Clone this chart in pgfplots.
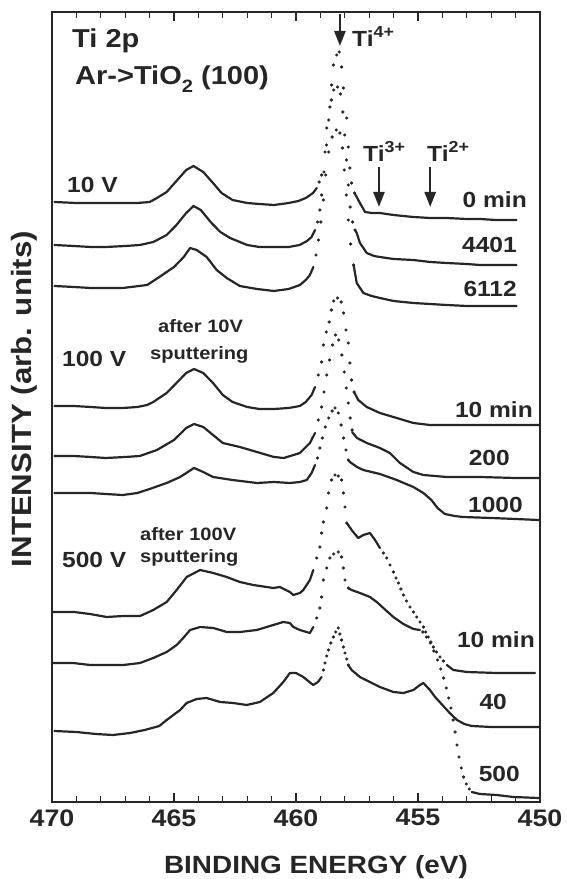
\documentclass[border=0pt]{standalone}
\usepackage{fontspec}
\setmainfont{Liberation Sans}[FakeStretch=1.12]
\usepackage{pgfplots}
\pgfplotsset{compat=1.18}
\usetikzlibrary{arrows.meta}
\newcommand\fs[1]{\fontsize{#1}{#1}\selectfont\bfseries}
\pgfplotsset{
  ln/.style={line width=2.2bp, color=black!85, mark=none, line join=round, line cap=round},
  dt/.style={only marks, mark=*, mark size=1.4bp, color=black!85, mark options={draw=black!85, fill=black!85}},
}
\begin{document}
\begin{tikzpicture}
\useasboundingbox (0,0) rectangle (567bp,879bp);
\begin{axis}[
  at={(52bp,77bp)}, anchor=south west,
  scale only axis, width=488bp, height=790bp,
  x dir=reverse, xmin=450, xmax=470, ymin=-2, ymax=788,
  xtick={450,455,460,465,470}, minor x tick num=4,
  ytick=\empty,
  tick align=inside, major tick length=9bp, minor tick length=6bp,
  xtick pos=both,
  axis line style={line width=1.6bp, black!85},
  tick style={line width=1.3bp, black!85},
  /pgf/number format/assume math mode=true,
  /pgf/number format/1000 sep={},
  tick label style={font=\fs{24}, text=black!85},
  xticklabel style={yshift=-4bp},
  xlabel={BINDING ENERGY (eV)},
  xlabel style={font=\fs{25}, text=black!85, at={(axis description cs:0.5,0)}, anchor=base, yshift=-71bp, xshift=20bp},
  ylabel={INTENSITY (arb. units)},
  ylabel style={font=\fs{28}, text=black!85, at={(axis description cs:-0.057,0.51)}, anchor=center},
]
% ---------------- 10 V, 0 min
\addplot[ln] coordinates {(469.9,598)(469.0,597)(468.4,597)(467.6,597)(467.1,597)(466.5,597)(466.0,598)(465.7,602)(465.3,608)(464.9,619)(464.5,630)(464.2,634)(463.8,628)(463.4,617)(463.05,607)(462.6,600)(462.0,597)(461.5,596)(460.9,595)(460.3,597)(459.9,599)(459.6,602)(459.3,607)(459.15,612)};
\addplot[dt] coordinates {(459.05,618)(458.95,625)(458.81,648)(458.74,672)(458.61,693)(458.54,715)(458.47,735)(458.33,745)(458.23,748)(458.13,733)(458.06,712)(457.92,682)(457.86,653)(457.79,632)(457.72,617)(457.60,607)};
\addplot[ln] coordinates {(457.60,607)(457.38,597)(457.17,588)(456.9,587)(456.56,587)(456.0,585)(455.19,583)(454.5,582)(453.82,582)(453.0,581)(452.46,581)(451.8,580)(450.96,580)};
% ---------------- 4401
\addplot[ln] coordinates {(469.9,555)(469.1,554)(468.4,553)(467.8,553)(467.0,554)(466.4,555)(465.85,558)(465.3,565)(464.9,575)(464.5,587)(464.2,594)(463.9,590)(463.5,578)(463.1,568)(462.7,562)(462.0,555)(461.5,553)(460.9,553)(460.3,553)(459.85,555)(459.55,559)(459.36,563)(459.22,570)};
\addplot[dt] coordinates {(459.12,578)(459.02,590)(458.95,605)(458.85,628)(458.75,655)(458.66,680)(458.55,700)(458.45,710)(458.30,713)(458.18,706)(458.08,688)(458.00,665)(457.93,640)(457.86,615)(457.78,593)(457.68,578)(457.58,570)};
\addplot[ln] coordinates {(457.58,570)(457.51,567)(457.38,557)(457.10,547)(456.8,544)(456.56,543)(456.0,541)(455.19,540)(454.5,538)(453.82,537)(453.0,536)(452.46,535)(451.7,535)(450.96,535)};
% ---------------- 6112
\addplot[ln] coordinates {(469.9,514)(469.1,513)(468.4,512)(467.1,512)(466.1,515)(465.6,523)(465.0,533)(464.6,543)(464.34,552)(464.07,550)(463.66,543)(463.25,530)(462.84,522)(462.3,514)(461.6,511)(460.9,509)(460.3,511)(459.84,515)(459.6,520)(459.43,525)(459.29,533)};
\addplot[dt] coordinates {(459.18,545)(459.08,560)(458.98,578)(458.88,600)(458.78,625)(458.66,648)(458.52,663)(458.35,670)(458.20,667)(458.10,652)(458.02,630)(457.94,605)(457.86,580)(457.76,556)(457.64,535)};
\addplot[ln] coordinates {(457.64,535)(457.51,517)(457.24,507)(456.9,504)(456.56,502)(456.0,499)(455.19,497)(454.5,496)(453.82,495)(453.0,494)(452.4,494)(450.96,494)};
% ---------------- 100 V, 10 min
\addplot[ln] coordinates {(469.9,394)(469.1,394)(468.4,393)(467.8,392)(467.1,392)(466.5,393)(466.1,395)(465.85,398)(465.3,407)(464.9,417)(464.5,427)(464.18,431)(463.8,427)(463.4,417)(463.0,405)(462.6,398)(462.0,393)(461.5,391)(460.9,391)(460.3,392)(459.84,394)(459.6,398)(459.36,405)(459.22,413)};
\addplot[dt] coordinates {(459.09,425)(458.95,438)(458.88,455)(458.76,468)(458.64,478)(458.55,490)(458.45,499)(458.30,502)(458.15,498)(458.05,487)(457.95,470)(457.86,457)(457.79,437)(457.72,420)(457.62,408)};
\addplot[ln] coordinates {(457.62,408)(457.45,400)(457.10,393)(456.56,387)(455.87,382)(455.19,377)(454.51,375)(453.14,375)(452.0,375)(451.0,375)(450.05,375)};
% ---------------- 200
\addplot[ln] coordinates {(469.9,344)(469.1,344)(468.4,343)(467.8,342)(467.0,343)(466.4,344)(465.7,350)(465.0,360)(464.5,372)(464.18,376)(463.8,373)(463.4,365)(463.0,357)(462.3,353)(461.6,348)(460.9,343)(460.5,342)(460.1,345)(459.84,347)(459.43,357)(459.22,367)};
\addplot[dt] coordinates {(459.09,380)(458.95,393)(458.85,408)(458.74,425)(458.62,440)(458.50,455)(458.38,465)(458.25,460)(458.12,445)(458.02,428)(457.94,412)(457.86,397)(457.78,382)(457.70,370)};
\addplot[ln] coordinates {(457.70,368)(457.50,362)(457.10,357)(456.56,352)(456.15,347)(455.74,337)(455.19,328)(454.78,325)(453.82,323)(452.46,323)(451.0,322)(450.05,322)};
% ---------------- 1000
\addplot[ln] coordinates {(469.9,307)(469.1,307)(468.4,307)(467.8,306)(467.1,305)(466.5,307)(466.0,311)(465.3,317)(464.75,323)(464.18,332)(463.8,328)(463.4,323)(462.6,320)(461.6,317)(460.9,318)(460.25,317)(459.84,318)(459.56,320)(459.36,327)(459.22,335)};
\addplot[dt] coordinates {(459.12,342)(459.02,352)(458.92,362)(458.80,373)(458.66,382)(458.52,389)(458.40,392)(458.27,387)(458.15,375)(458.05,362)(457.95,350)(457.86,340)};
\addplot[ln] coordinates {(457.86,340)(457.79,338)(457.50,333)(457.24,330)(456.56,326)(455.87,320)(455.19,313)(454.78,307)(454.45,300)(454.2,292)(453.9,286)(453.5,284)(453.14,283)(452.0,282)(451.0,281)(450.05,280)};
% ---------------- 500 V, 10 min
\addplot[ln] coordinates {(469.95,188)(469.1,188)(468.44,186)(467.76,183)(467.08,184)(466.39,184)(465.85,190)(465.30,198)(464.89,210)(464.48,223)(463.93,230)(463.39,227)(462.84,223)(462.30,218)(461.75,215)(460.93,212)(460.66,213)(460.25,208)(460.11,205)(459.84,207)(459.70,210)(459.43,220)(459.29,230)};
\addplot[dt] coordinates {(459.15,242)(459.02,253)(458.95,267)(458.88,278)(458.74,292)(458.67,307)(458.54,320)(458.40,325)(458.27,324)(458.13,320)(458.06,307)(457.99,293)(457.92,277)};
\addplot[ln] coordinates {(457.92,277)(457.86,275)(457.72,270)(457.45,262)(457.24,265)(456.97,267)(456.76,260)(456.56,252)};
\addplot[dt] coordinates {(456.42,247)(456.28,242)(456.15,235)(456.01,228)(455.90,222)(455.80,217)(455.70,211)(455.60,205)(455.47,199)(455.33,193)(455.19,188)(455.05,183)(454.92,178)(454.78,173)(454.68,168)(454.58,163)(454.47,158)(454.37,153)(454.24,148)(454.10,143)(453.96,139)};
\addplot[ln] coordinates {(453.82,135)(453.55,130)(453.00,128)(451.78,127)(450.2,127)};
% ---------------- 500 (left side in the middle, steep fall at 454-453)
\addplot[ln] coordinates {(469.95,137)(469.13,137)(468.44,135)(467.76,135)(467.08,135)(466.39,137)(465.85,142)(465.30,148)(464.89,155)(464.62,162)(464.34,170)(463.93,173)(463.39,172)(462.84,168)(462.30,168)(461.61,170)(460.93,175)(460.52,178)(460.25,177)(460.11,173)(459.84,170)(459.43,167)(459.29,173)};
\addplot[dt] coordinates {(459.15,182)(459.02,192)(458.95,203)(458.88,220)(458.74,232)(458.61,242)(458.45,246)(458.27,248)(458.13,243)(458.06,232)(457.99,220)(457.86,212)};
\addplot[ln] coordinates {(457.86,212)(457.72,210)(457.38,207)(456.97,203)(456.69,198)(456.42,192)(456.01,183)(455.60,176)(455.19,171)(454.92,170)};
\addplot[dt] coordinates {(454.80,168)(454.65,163)(454.50,157)(454.35,149)(454.20,140)(454.07,131)(453.95,122)(453.84,112)(453.74,102)(453.65,92)(453.56,80)(453.48,68)(453.40,55)(453.32,43)(453.23,32)(453.13,23)(453.02,16)(452.90,11)};
\addplot[ln] coordinates {(452.80,8)(452.46,6)(451.78,5)(451.09,3)(450.05,2)};
% ---------------- 40 (lowest on the left)
\addplot[ln] coordinates {(469.9,69)(469.0,68)(468.2,66)(467.5,65)(466.8,67)(466.2,70)(465.6,74)(465.3,80)(464.75,90)(464.48,97)(464.07,101)(463.66,102)(463.11,98)(462.57,97)(462.02,95)(461.48,98)(460.93,107)(460.52,118)(460.25,127)(460.0,127)(459.70,123)(459.40,117)(459.29,115)(459.1,118)(458.95,123)};
\addplot[dt] coordinates {(458.88,130)(458.81,137)(458.74,144)(458.67,150)(458.57,157)(458.47,163)(458.37,168)(458.27,172)(458.20,166)(458.13,160)(458.06,153)(457.99,147)(457.92,141)(457.86,135)};
\addplot[ln] coordinates {(457.86,135)(457.72,130)(457.38,123)(456.97,118)(456.56,113)(456.01,108)(455.60,107)(455.19,110)(454.92,115)(454.78,117)(454.51,110)(454.30,103)(454.0,95)(453.7,87)(453.4,80)(453.1,76)(452.8,74)(452.0,73)(451.0,73)(450.05,73)};
% arrows
\draw[line width=2.4bp, black!85, -{Triangle[length=15bp,width=11bp]}] (axis cs:458.2,786) -- (axis cs:458.2,754);
\draw[line width=2.4bp, black!85, -{Triangle[length=15bp,width=11bp]}] (axis cs:456.6,633) -- (axis cs:456.6,593);
\draw[line width=2.4bp, black!85, -{Triangle[length=15bp,width=11bp]}] (axis cs:454.5,633) -- (axis cs:454.5,593);
\end{axis}
\begin{scope}[every node/.style={inner sep=0pt, text=black!85}]
\node[anchor=base west] at (72bp,831bp) {\fs{26}Ti 2p};
\node[anchor=base west] at (75bp,794bp) {\fs{26}Ar->TiO\raisebox{-0.3em}{\fs{18}2} (100)};
\node[anchor=base west] at (352bp,832bp) {\fs{22}Ti\raisebox{0.45em}{\fs{16}4+}};
\node[anchor=base west] at (363bp,717bp) {\fs{22}Ti\raisebox{0.45em}{\fs{16}3+}};
\node[anchor=base west] at (427bp,717bp) {\fs{22}Ti\raisebox{0.45em}{\fs{16}2+}};
\node[anchor=base west] at (67bp,686bp) {\fs{22}10 V};
\node[anchor=base east] at (527bp,671bp) {\fs{22}0 min};
\node[anchor=base east] at (517bp,626bp) {\fs{22}4401};
\node[anchor=base east] at (517bp,582bp) {\fs{22}6112};
\node[anchor=base west] at (158bp,546bp) {\fs{18}after 10V};
\node[anchor=base west] at (150bp,519bp) {\fs{18}sputtering};
\node[anchor=base west] at (62bp,512bp) {\fs{22}100 V};
\node[anchor=base east] at (533bp,461bp) {\fs{22}10 min};
\node[anchor=base east] at (510bp,413bp) {\fs{22}200};
\node[anchor=base east] at (523bp,366bp) {\fs{22}1000};
\node[anchor=base west] at (140bp,338bp) {\fs{18}after 100V};
\node[anchor=base west] at (140bp,316bp) {\fs{18}sputtering};
\node[anchor=base west] at (62bp,311bp) {\fs{22}500 V};
\node[anchor=base east] at (535bp,231bp) {\fs{22}10 min};
\node[anchor=base east] at (507bp,169bp) {\fs{22}40};
\node[anchor=base east] at (520bp,97bp) {\fs{22}500};
\end{scope}
\end{tikzpicture}
\end{document}
